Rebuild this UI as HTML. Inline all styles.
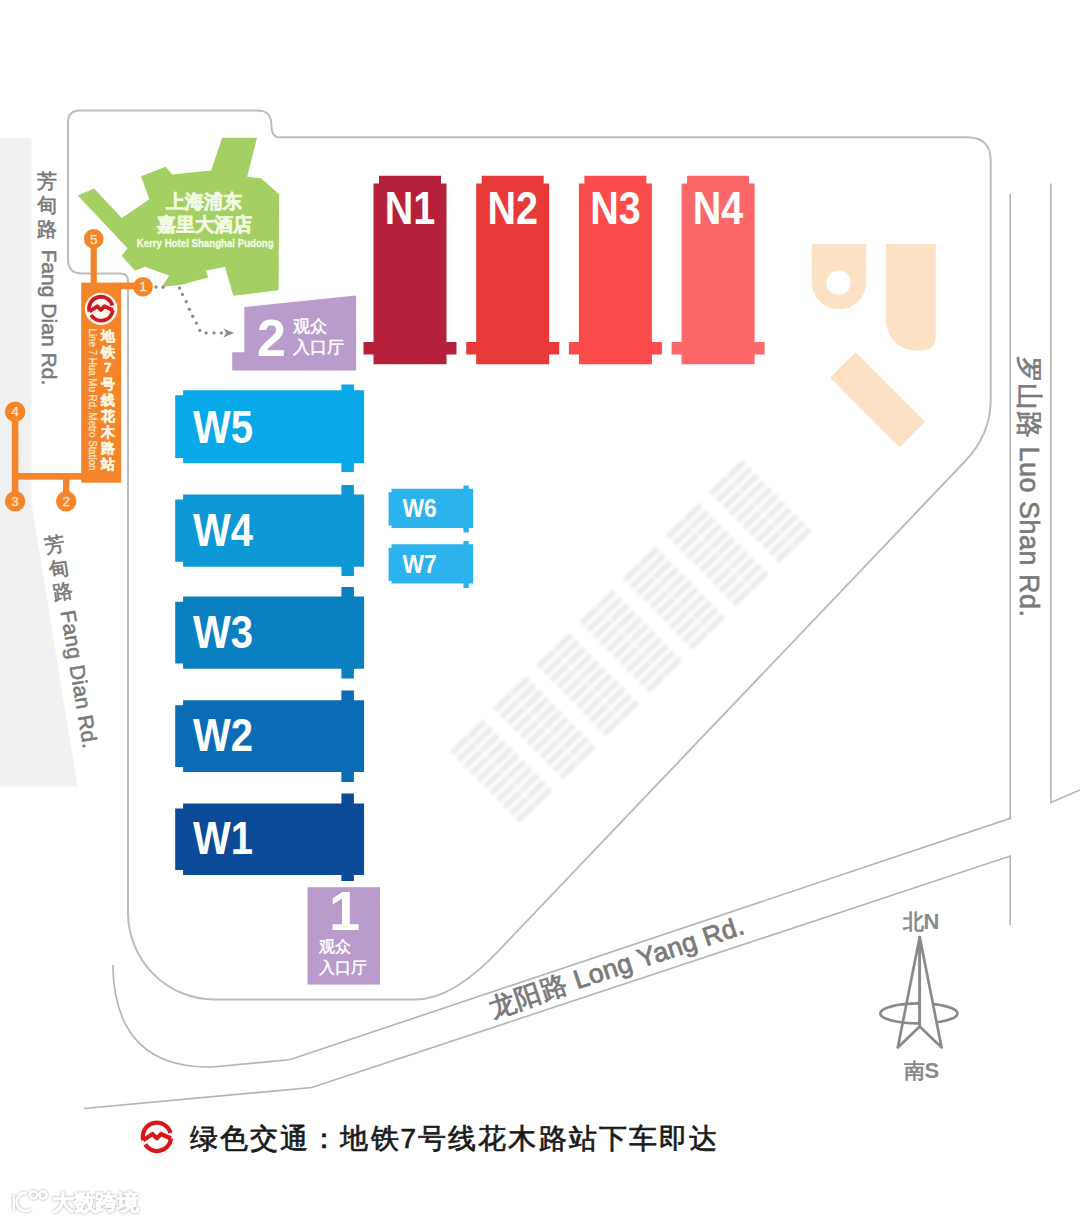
<!DOCTYPE html>
<html><head><meta charset="utf-8">
<style>
html,body{margin:0;padding:0;background:#fff;}
body{width:1080px;height:1223px;overflow:hidden;position:relative;font-family:"Liberation Sans",sans-serif;}
svg{position:absolute;left:0;top:0;}
text{font-family:"Liberation Sans",sans-serif;}
</style></head>
<body>
<svg width="1080" height="1223" viewBox="0 0 1080 1223">
<!-- left gray road -->
<path d="M0,138 H29 Q31.5,138 31.5,141 V503 L77.5,786.5 H0 Z" fill="#f1f1f1"/>

<!-- road lines -->
<g fill="none" stroke="#b4b4b4" stroke-width="1.6">
<path d="M112.8,965 C114,1037 150,1068 212,1067 L289.5,1059.8 L1010.2,818.3 V194"/>
<path d="M84,1108.5 L311.9,1087.5 L1010.2,856 V925"/>
<path d="M1050.8,183.5 V802.5 L1080,790"/>
</g>

<!-- venue boundary -->
<path d="M68,122 Q68,110.5 80,110.5 L257,110.5 C268,110.5 271,116 271.3,124 C271.5,132 273,137.3 280,137.3 L967,137.3 Q990.7,137.3 990.7,161 L990.7,400 Q990.7,434.4 965,461.3 L498,951.4 Q452.4,999.4 416,999.4 L214,999.4 A86,87 0 0 1 128,912.4 L128,281 Q128,273.5 120.5,273.5 L82,273.5 Q68,273.5 68,259.5 Z" fill="none" stroke="#bdbdbd" stroke-width="2"/>

<!-- parking stripes -->
<defs><filter id="blr" x="-10%" y="-10%" width="120%" height="120%"><feGaussianBlur stdDeviation="1.5"/></filter></defs>
<g filter="url(#blr)"><path d="M711.1,493.9L744.2,461.9M717.6,500.6L750.7,468.7M724.2,507.3L757.3,475.4M730.8,514.0L763.9,482.1M737.4,520.8L770.5,488.8M744.0,527.5L777.0,495.5M750.5,534.2L783.6,502.2M757.1,540.9L790.2,509.0M763.7,547.6L796.8,515.7M770.3,554.3L803.4,522.4M776.8,561.1L809.9,529.1M667.9,537.1L701.0,505.2M674.4,543.9L707.5,511.9M681.0,550.6L714.1,518.6M687.6,557.3L720.7,525.3M694.2,564.0L727.3,532.1M700.8,570.7L733.8,538.8M707.3,577.4L740.4,545.5M713.9,584.2L747.0,552.2M720.5,590.9L753.6,558.9M727.1,597.6L760.2,565.6M733.6,604.3L766.7,572.4M624.7,580.4L657.8,548.4M631.2,587.1L664.3,555.2M637.8,593.8L670.9,561.9M644.4,600.5L677.5,568.6M651.0,607.3L684.1,575.3M657.6,614.0L690.6,582.0M664.1,620.7L697.2,588.7M670.7,627.4L703.8,595.5M677.3,634.1L710.4,602.2M683.9,640.8L717.0,608.9M690.4,647.6L723.5,615.6M581.5,623.6L614.6,591.7M588.0,630.4L621.1,598.4M594.6,637.1L627.7,605.1M601.2,643.8L634.3,611.8M607.8,650.5L640.9,618.6M614.4,657.2L647.4,625.3M620.9,663.9L654.0,632.0M627.5,670.7L660.6,638.7M634.1,677.4L667.2,645.4M640.7,684.1L673.8,652.1M647.2,690.8L680.3,658.9M538.3,666.9L571.4,634.9M544.8,673.6L577.9,641.7M551.4,680.3L584.5,648.4M558.0,687.0L591.1,655.1M564.6,693.8L597.7,661.8M571.2,700.5L604.2,668.5M577.7,707.2L610.8,675.2M584.3,713.9L617.4,682.0M590.9,720.6L624.0,688.7M597.5,727.3L630.6,695.4M604.0,734.1L637.1,702.1M495.1,710.1L528.2,678.2M501.6,716.9L534.7,684.9M508.2,723.6L541.3,691.6M514.8,730.3L547.9,698.3M521.4,737.0L554.5,705.1M528.0,743.7L561.0,711.8M534.5,750.4L567.6,718.5M541.1,757.2L574.2,725.2M547.7,763.9L580.8,731.9M554.3,770.6L587.4,738.6M560.8,777.3L593.9,745.4M451.9,753.4L485.0,721.4M458.4,760.1L491.5,728.2M465.0,766.8L498.1,734.9M471.6,773.5L504.7,741.6M478.2,780.3L511.3,748.3M484.8,787.0L517.8,755.0M491.3,793.7L524.4,761.7M497.9,800.4L531.0,768.5M504.5,807.1L537.6,775.2M511.1,813.8L544.2,781.9M517.6,820.6L550.7,788.6" fill="none" stroke="#ebebeb" stroke-width="5.8" stroke-dasharray="22.3 1.4 22.3 10"/></g>

<!-- beige shapes -->
<g fill="#fce1c4">
<path d="M811.7,244 H866.2 V282 A27.25,27.25 0 0 1 811.7,282 Z"/>
<path d="M886,244 H935.7 V336 Q935.7,350.5 921,350.5 H916 A30,30 0 0 1 886,320.5 Z"/>
<rect x="828.5" y="381.7" width="98.3" height="35.9" transform="rotate(45 877.6 399.65)"/>
</g>
<circle cx="838.5" cy="282.6" r="12.2" fill="#fff"/>

<!-- hotel -->
<path d="M77.8,195.6 L94.1,188.4 L121.8,217.9 L149.4,199.2 L141,176.3 L165.7,166.7 L172.3,174.5 L211.1,170.6 L222.2,137.8 L257,137.8 L247.2,176.7 L261.1,178.3 L279.2,194.2 L278.5,290.2 L233.3,295.8 L225,266.7 L205.8,270.8 L208.3,277.5 L180,285 L161.7,286.7 L169.2,275.8 L145,266.7 L135,270.8 L121.7,255.8 L127.5,248.3 Z" fill="#a4d063"/>
<g fill="#f2fae4" font-weight="bold">
<text x="204" y="208" font-size="19" text-anchor="middle" stroke="#f2fae4" stroke-width="0.6">上海浦东</text>
<text x="204" y="231.2" font-size="19" text-anchor="middle" stroke="#f2fae4" stroke-width="0.6">嘉里大酒店</text>
<text x="136.7" y="247" font-size="10.5" stroke="#f2fae4" stroke-width="0.3" textLength="137" lengthAdjust="spacingAndGlyphs">Kerry Hotel Shanghai Pudong</text>
</g>

<!-- N halls -->
<g id="nhalls">
<path fill="#b5203a" d="M379,175.8 H441 V183.4 H446.5 V342 H456.5 V354.5 H446.5 V364.3 H373.5 V354.5 H363.5 V342 H373.5 V183.4 H379 Z"/>
<path fill="#e83b39" transform="translate(102.7 0)" d="M379,175.8 H441 V183.4 H446.5 V342 H456.5 V354.5 H446.5 V364.3 H373.5 V354.5 H363.5 V342 H373.5 V183.4 H379 Z"/>
<path fill="#fb4b4b" transform="translate(205.4 0)" d="M379,175.8 H441 V183.4 H446.5 V342 H456.5 V354.5 H446.5 V364.3 H373.5 V354.5 H363.5 V342 H373.5 V183.4 H379 Z"/>
<path fill="#fc6869" transform="translate(308.1 0)" d="M379,175.8 H441 V183.4 H446.5 V342 H456.5 V354.5 H446.5 V364.3 H373.5 V354.5 H363.5 V342 H373.5 V183.4 H379 Z"/>
</g>
<g fill="#fff" font-weight="bold" font-size="46" text-anchor="middle">
<text x="410" y="224.3" textLength="50.5" lengthAdjust="spacingAndGlyphs">N1</text>
<text x="512.7" y="224.3" textLength="50.5" lengthAdjust="spacingAndGlyphs">N2</text>
<text x="615.4" y="224.3" textLength="50.5" lengthAdjust="spacingAndGlyphs">N3</text>
<text x="718.1" y="224.3" textLength="50.5" lengthAdjust="spacingAndGlyphs">N4</text>
</g>

<!-- W halls -->
<g>
<path fill="#07a9e9" d="M183.1,390.2 H341.4 V384.5 H353.9 V390.2 H364.1 V463.2 H353.9 V472.1 H341.4 V463.2 H183.1 V458.1 H175.2 V395.3 H183.1 Z"/>
<path fill="#0c98d4" d="M183.1,494.5 H341.4 V484.9 H353.9 V494.5 H364.1 V566.8 H353.9 V576 H341.4 V566.8 H183.1 V561.7 H175.2 V499.6 H183.1 Z"/>
<path fill="#0a80c1" d="M183.1,596.6 H341.4 V587 H353.9 V596.6 H364.1 V668.7 H353.9 V678.5 H341.4 V668.7 H183.1 V663.6 H175.2 V601.7 H183.1 Z"/>
<path fill="#0b6cb6" d="M183.1,700.2 H341.4 V690.6 H353.9 V700.2 H364.1 V772.1 H353.9 V782.1 H341.4 V772.1 H183.1 V767.0 H175.2 V705.3 H183.1 Z"/>
<path fill="#0a4a96" d="M183.1,803.4 H341.4 V793.4 H353.9 V803.4 H364.1 V875 H353.9 V881 H341.4 V875 H183.1 V869.9 H175.2 V808.5 H183.1 Z"/>
<path fill="#2cb2ec" d="M391.6,488.7 H463.4 V485.6 H468.8 V488.7 H473.2 V528 H468.8 V532.4 H463.4 V528 H391.6 V525.5 H388.6 V492.2 H391.6 Z"/>
<path fill="#2cb2ec" transform="translate(0 55.5)" d="M391.6,488.7 H463.4 V485.6 H468.8 V488.7 H473.2 V528 H468.8 V532.4 H463.4 V528 H391.6 V525.5 H388.6 V492.2 H391.6 Z"/>
</g>
<g fill="#fff" font-weight="bold" font-size="46.5">
<text x="193" y="442.6" textLength="60" lengthAdjust="spacingAndGlyphs">W5</text>
<text x="193" y="546" textLength="60" lengthAdjust="spacingAndGlyphs">W4</text>
<text x="193" y="648.4" textLength="60" lengthAdjust="spacingAndGlyphs">W3</text>
<text x="193" y="751.3" textLength="60" lengthAdjust="spacingAndGlyphs">W2</text>
<text x="193" y="853.8" textLength="60" lengthAdjust="spacingAndGlyphs">W1</text>
<text x="402.5" y="517.2" font-size="25" textLength="34.3" lengthAdjust="spacingAndGlyphs">W6</text>
<text x="402.5" y="572.7" font-size="25" textLength="34.3" lengthAdjust="spacingAndGlyphs">W7</text>
</g>

<!-- entrances -->
<path d="M244.3,307.1 L356.1,295.6 V370.4 H232.2 V352.2 H244.3 Z" fill="#b99ccc"/>
<rect x="307.5" y="887.2" width="72.5" height="97.4" fill="#b99ccc"/>
<g fill="#fff" font-weight="bold">
<text x="271.4" y="356.4" font-size="52" text-anchor="middle">2</text>
<text x="344.6" y="930.3" font-size="56" text-anchor="middle">1</text>
</g>
<g fill="#fff" stroke="#fff" stroke-width="0.45" font-size="16.8">
<text x="292.5" y="332">观众</text>
<text x="292.5" y="353">入口厅</text>
<text x="319" y="952.4" font-size="16.2">观众</text>
<text x="319" y="972.6" font-size="16.2">入口厅</text>
</g>

<!-- dotted path -->
<g fill="#8f8f8f"><circle cx="156" cy="287" r="1.7"/><circle cx="163" cy="287.3" r="1.7"/><circle cx="179.5" cy="288" r="1.7"/><circle cx="182.5" cy="294.4" r="1.7"/><circle cx="186.2" cy="301.8" r="1.7"/><circle cx="189.4" cy="309.3" r="1.7"/><circle cx="192.7" cy="316.2" r="1.7"/><circle cx="196.4" cy="323.1" r="1.7"/><circle cx="199.8" cy="330.4" r="1.7"/><circle cx="206.1" cy="332.9" r="1.7"/><circle cx="214" cy="332.9" r="1.7"/><circle cx="221.4" cy="332.9" r="1.7"/><path d="M223.2,328.6 L234.2,333 L223.2,337.4 L226.4,333 Z"/></g>

<!-- metro station -->
<g fill="#f4852b" stroke="none">
<rect x="81.2" y="282.6" width="39.9" height="200.1"/>
<rect x="90.6" y="238" width="6.2" height="46"/>
<circle cx="93.7" cy="238.8" r="9.8"/>
<rect x="120" y="282.6" width="24" height="6.7"/>
<circle cx="143" cy="286.7" r="9.8"/>
<rect x="12" y="473" width="70" height="6.7"/>
<rect x="11.8" y="411.7" width="6.6" height="89.6"/>
<circle cx="15.1" cy="411.7" r="10.2"/>
<circle cx="15.1" cy="501.3" r="10.2"/>
<rect x="63" y="476" width="6.4" height="25"/>
<circle cx="66.2" cy="501.3" r="10.2"/>
</g>
<g fill="#fde6cc" stroke="#fde6cc" stroke-width="0.3" font-size="13.5" text-anchor="middle">
<text x="93.7" y="243.5">5</text>
<text x="143" y="291.4">1</text>
<text x="15.1" y="416.4">4</text>
<text x="15.1" y="506">3</text>
<text x="66.2" y="506">2</text>
</g>
<!-- metro logo in station -->
<defs><g id="mlogo" fill="none" stroke-linejoin="round">
<path d="M-11.6,2.6 A11.75,11.75 0 1 1 11.2,-3.4"/>
<path d="M-11.6,2.6 L-3.9,-2.6 L-0.2,1 L3.3,-2.6 L11.7,1.2"/>
<path d="M11.7,1.2 A11.75,11.75 0 0 1 -10,6.1"/>
</g></defs>
<circle cx="101.1" cy="308.9" r="16.2" fill="#fff7ee"/>
<use href="#mlogo" transform="translate(101.1 308.9)" stroke="#cc1a24" stroke-width="3.9"/>
<g fill="#fff6e2" stroke="#fff6e2" stroke-width="0.5" font-weight="bold" font-size="14" text-anchor="middle">
<text x="107.8" y="340.5">地</text>
<text x="107.8" y="356.5">铁</text>
<text x="107.8" y="372" font-size="13.5">7</text>
<text x="107.8" y="388.5">号</text>
<text x="107.8" y="404.5">线</text>
<text x="107.8" y="420.5">花</text>
<text x="107.8" y="436.5">木</text>
<text x="107.8" y="452.5">路</text>
<text x="107.8" y="468.5">站</text>
</g>
<text transform="translate(89 328.5) rotate(90)" fill="#fde2c2" stroke="#fde2c2" stroke-width="0.3" font-size="10.8" textLength="142" lengthAdjust="spacingAndGlyphs">Line 7 Hua Mu Rd. Metro Station</text>

<!-- road labels -->
<g fill="#7a7a7a" stroke="#7a7a7a" stroke-width="0.6" font-size="20">
<text x="47" y="188" text-anchor="middle">芳</text>
<text x="47" y="212" text-anchor="middle">甸</text>
<text x="47" y="236" text-anchor="middle">路</text>
</g>
<text transform="translate(42 249.4) rotate(90)" fill="#7a7a7a" stroke="#7a7a7a" stroke-width="0.55" font-size="21" textLength="136">Fang Dian Rd.</text>
<g transform="translate(55 544.5) rotate(-9.4)">
<g fill="#7a7a7a" stroke="#7a7a7a" stroke-width="0.6" font-size="20" text-anchor="middle">
<text x="0" y="7">芳</text>
<text x="0" y="31">甸</text>
<text x="0" y="55">路</text>
</g>
<text transform="translate(-5.5 67) rotate(90)" fill="#7a7a7a" stroke="#7a7a7a" stroke-width="0.55" font-size="21" textLength="139.5">Fang Dian Rd.</text>
</g>
<text transform="translate(1020 356) rotate(90)" fill="#7a7a7a" stroke="#7a7a7a" stroke-width="0.6" font-size="27" textLength="261">罗山路 Luo Shan Rd.</text>
<text transform="translate(492.5 1017.5) rotate(-18.4)" fill="#7a7a7a" stroke="#7a7a7a" stroke-width="0.8" font-size="26.5" textLength="267">龙阳路 Long Yang Rd.</text>

<!-- compass -->
<g fill="none" stroke="#8a8a8a" stroke-width="2.7" stroke-linejoin="round">
<ellipse cx="918.9" cy="1013.4" rx="38.6" ry="10"/>
<path d="M919.7,937 L941.6,1047.5 L919.7,1026.6 Z" fill="#fff"/>
<path d="M919.7,937 L897.8,1047.5 L919.7,1026.6 Z"/>
</g>
<g fill="#8a8a8a" font-size="21" font-weight="bold">
<text x="902.5" y="928.5">北<tspan font-size="22">N</tspan></text>
<text x="903.5" y="1078">南<tspan font-size="22">S</tspan></text>
</g>

<!-- legend -->
<use href="#mlogo" transform="translate(157.1 1137.1) scale(1.19)" stroke="#d8171c" stroke-width="3.6"/>
<text x="190" y="1148" font-size="28" fill="#1a1a1a" stroke="#1a1a1a" stroke-width="0.7" textLength="527">绿色交通：地铁7号线花木路站下车即达</text>

<!-- watermark -->
<defs><filter id="shd" x="-20%" y="-30%" width="140%" height="160%"><feGaussianBlur in="SourceAlpha" stdDeviation="1.1" result="b"/><feFlood flood-color="#888" flood-opacity="0.85"/><feComposite in2="b" operator="in" result="s"/><feMerge><feMergeNode in="s"/><feMergeNode in="SourceGraphic"/></feMerge></filter></defs>
<g filter="url(#shd)">
<g fill="none" stroke="#fff" stroke-width="2.6">
<path d="M14,1195 V1211"/>
<path d="M27,1193 A9,9 0 1 0 31,1209"/>
<circle cx="33.5" cy="1195" r="3.6"/>
<circle cx="43" cy="1195" r="3.6"/>
</g>
<text x="52" y="1210" font-size="21.5" font-weight="bold" fill="#fff" stroke="#fff" stroke-width="0.7" textLength="87">大数跨境</text>
</g>
</svg>
</body></html>
